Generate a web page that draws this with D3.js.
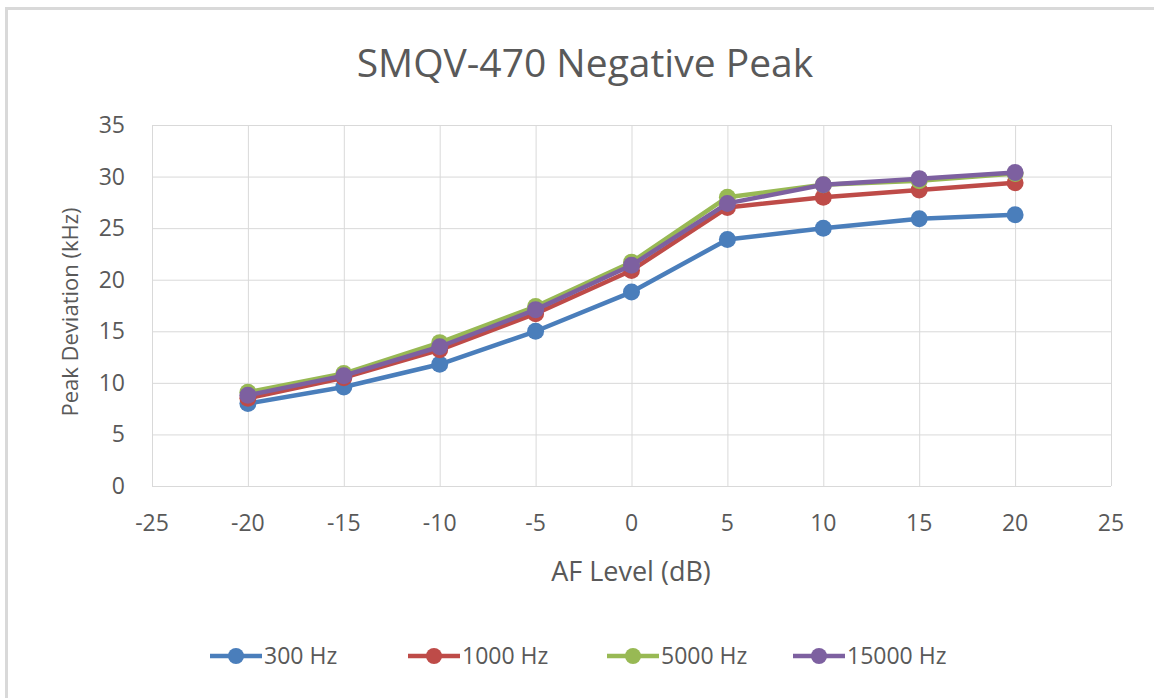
<!DOCTYPE html>
<html>
<head>
<meta charset="utf-8">
<title>SMQV-470 Negative Peak</title>
<script src="https://d3js.org/d3.v7.min.js"></script>
<style>
  body { margin: 0; background: #fff; }
  text { font-family: "Open Sans", "Noto Sans", sans-serif; fill: #595959; }
</style>
</head>
<body>
<div id="chart"></div>
<script>
// data
var levels = [-20, -15, -10, -5, 0, 5, 10, 15, 20];
var series = ["300 Hz", "1000 Hz", "5000 Hz", "15000 Hz"];
var colors = ["#4a7ebb", "#be4b48", "#98b954", "#7d60a0"];
var hz300   = [8.0, 9.6, 11.8, 15.0, 18.8, 23.9, 25.0, 25.9, 26.3];
var hz1000  = [8.5, 10.5, 13.2, 16.7, 20.9, 27.0, 28.0, 28.7, 29.4];
var hz5000  = [9.1, 10.9, 13.9, 17.4, 21.7, 28.0, 29.2, 29.6, 30.3];
var hz15000 = [8.8, 10.7, 13.5, 17.1, 21.4, 27.4, 29.2, 29.8, 30.4];
var xTicks = [-25, -20, -15, -10, -5, 0, 5, 10, 15, 20, 25];
var yTicks = [0, 5, 10, 15, 20, 25, 30, 35];

var w = 1154, h = 698;
var svg = d3.select("#chart").append("svg")
    .attr("width", w).attr("height", h);

// outer frame (only top/left visible)
svg.append("rect")
    .attr("x", 6.5).attr("y", 8.5)
    .attr("width", w + 20).attr("height", h + 20)
    .attr("fill", "#fff").attr("stroke", "#d9d9d9").attr("stroke-width", 3);

var x = d3.scaleLinear().domain([-25, 25]).range([152, 1111]);
var y = d3.scaleLinear().domain([0, 35]).range([486, 125]);

// grid
svg.append("g").selectAll("line").data(yTicks).enter().append("line")
    .attr("x1", x(-25)).attr("x2", x(25))
    .attr("y1", function(d) { return y(d) + 0.5; })
    .attr("y2", function(d) { return y(d) + 0.5; })
    .attr("stroke", "#d9d9d9").attr("stroke-width", 1);
svg.append("g").selectAll("line").data(xTicks).enter().append("line")
    .attr("x1", function(d) { return x(d) + 0.5; })
    .attr("x2", function(d) { return x(d) + 0.5; })
    .attr("y1", y(0)).attr("y2", y(35))
    .attr("stroke", "#d9d9d9").attr("stroke-width", 1);

// tick labels
svg.append("g").selectAll("text").data(yTicks).enter().append("text")
    .attr("x", 125).attr("y", function(d) { return y(d) + 8; })
    .attr("text-anchor", "end").style("font-size", "23px")
    .text(function(d) { return d; });
svg.append("g").selectAll("text").data(xTicks).enter().append("text")
    .attr("x", function(d) { return x(d); }).attr("y", 531)
    .attr("text-anchor", "middle").style("font-size", "23px")
    .text(function(d) { return d; });

// titles
svg.append("text").attr("x", 585).attr("y", 77)
    .attr("text-anchor", "middle").style("font-size", "39px")
    .text("SMQV-470 Negative Peak");
svg.append("text").attr("x", 631).attr("y", 581)
    .attr("text-anchor", "middle").style("font-size", "27px")
    .text("AF Level (dB)");
svg.append("text")
    .attr("transform", "translate(78,312) rotate(-90)")
    .attr("text-anchor", "middle").style("font-size", "22px")
    .text("Peak Deviation (kHz)");

// series
var allValues = [hz300, hz1000, hz5000, hz15000];
var line = d3.line()
    .x(function(d, i) { return x(levels[i]); })
    .y(function(d) { return y(d); });

allValues.forEach(function(vals, k) {
    var g = svg.append("g");
    g.append("path").datum(vals)
        .attr("d", line)
        .attr("fill", "none")
        .attr("stroke", colors[k])
        .attr("stroke-width", 4.5)
        .attr("stroke-linejoin", "round");
    g.selectAll("circle").data(vals).enter().append("circle")
        .attr("cx", function(d, i) { return x(levels[i]); })
        .attr("cy", function(d) { return y(d); })
        .attr("r", 8.5)
        .attr("fill", colors[k]);
});

// legend
var legX = [210, 408, 607, 793];
var legend = svg.append("g");
series.forEach(function(name, k) {
    var gx = legX[k];
    legend.append("line")
        .attr("x1", gx).attr("x2", gx + 52)
        .attr("y1", 656).attr("y2", 656)
        .attr("stroke", colors[k]).attr("stroke-width", 4.5);
    legend.append("circle")
        .attr("cx", gx + 26).attr("cy", 656).attr("r", 8)
        .attr("fill", colors[k]);
    legend.append("text")
        .attr("x", gx + 54).attr("y", 664)
        .style("font-size", "23px")
        .text(name);
});
</script>
</body>
</html>
